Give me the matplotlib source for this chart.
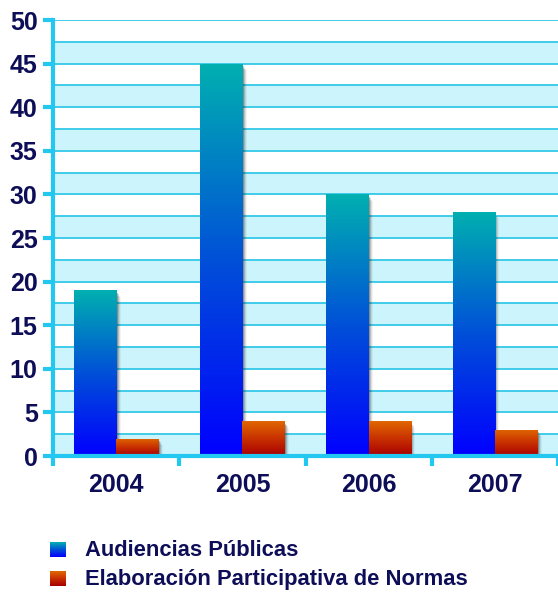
import matplotlib
matplotlib.use("Agg")
from matplotlib import pyplot as plt
from matplotlib.patches import Rectangle
import matplotlib.colors as mcolors
import numpy as np

# Data
years = ["2004", "2005", "2006", "2007"]
audiencias = [19, 45, 30, 28]
elaboracion = [2, 4, 4, 3]
series_names = ["Audiencias Públicas", "Elaboración Participativa de Normas"]

plt.rcParams["font.family"] = ["Liberation Sans", "DejaVu Sans"]

navy = "#0e0e58"
cyan_line = "#33c8e8"
cyan_axis = "#22c8f0"
band_color = "#ccf4fc"

blue_cmap = mcolors.LinearSegmentedColormap.from_list("blue", ["#0000ff", "#0050d8", "#00b0b0"])
orange_cmap = mcolors.LinearSegmentedColormap.from_list("orange", ["#a80000", "#c83000", "#e06800"])

fig = plt.figure(figsize=(5.58, 5.95), dpi=100)
ax = fig.add_axes([53 / 558, 1 - 456 / 595, 1 - 53 / 558, 436 / 595])

ymax = 50
ax.set_ylim(0, ymax)
ax.set_xlim(0, len(years))

# alternating background bands
for y0 in np.arange(0, ymax, 5):
    ax.axhspan(y0, y0 + 2.5, color=band_color, zorder=0, lw=0)
for y0 in np.arange(2.5, ymax + 0.1, 2.5):
    ax.axhline(y0, color=cyan_line, lw=1.3, zorder=1)

x = np.arange(len(years)) + 0.5
width = 0.335


def gradient_bars(xpos, heights, cmap, align):
    bars = ax.bar(xpos, heights, width, align=align, color="none", lw=0, zorder=3)
    grad = np.linspace(0, 1, 256).reshape(-1, 1)
    for b in bars:
        bx, by = b.get_x(), b.get_y()
        bw, bh = b.get_width(), b.get_height()
        # soft drop shadow on the right
        for k, a in enumerate([0.25, 0.17, 0.10, 0.05]):
            sh = Rectangle((bx + 0.012 + k * 0.008, by), bw, bh - 0.3 - k * 0.15,
                           color="#202020", alpha=a, lw=0, zorder=2)
            ax.add_patch(sh)
        im = ax.imshow(grad, cmap=cmap, origin="lower", aspect="auto",
                       extent=(bx, bx + bw, by, by + bh), zorder=3)
        im.set_clip_path(b)
    return bars


gradient_bars(x - width, audiencias, blue_cmap, "edge")
gradient_bars(x, elaboracion, orange_cmap, "edge")
ax.set_xlim(0, len(years))
ax.set_ylim(0, ymax)

# axes styling
for s in ["top", "right"]:
    ax.spines[s].set_visible(False)
for s in ["left", "bottom"]:
    ax.spines[s].set_color(cyan_axis)
    ax.spines[s].set_linewidth(3)
    ax.spines[s].set_zorder(5)

ax.set_yticks(np.arange(0, ymax + 1, 5))
ax.set_xticks(np.arange(0, len(years) + 1))
ax.set_xticklabels([])
ax.set_xticks(x, minor=True)
ax.set_xticklabels(years, minor=True)
ax.tick_params(axis="y", colors=cyan_axis, width=3, length=7, labelcolor=navy,
               labelsize=18, pad=4)
ax.tick_params(axis="x", which="major", colors=cyan_axis, width=3, length=7)
ax.tick_params(axis="x", which="minor", length=0, labelcolor=navy, labelsize=18, pad=12)
for lbl in ax.get_yticklabels() + ax.get_xticklabels(minor=True):
    lbl.set_fontweight("bold")

# legend
grad = np.linspace(0, 1, 64).reshape(-1, 1)
for i, (name, cmap) in enumerate(zip(series_names, [blue_cmap, orange_cmap])):
    yc = 550 + i * 29
    lax = fig.add_axes([50 / 558, 1 - (yc + 7) / 595, 16 / 558, 15 / 595])
    lax.imshow(grad, cmap=cmap, origin="lower", aspect="auto")
    lax.axis("off")
    fig.text(85 / 558, 1 - yc / 595, name, color=navy, fontsize=15.8,
             fontweight="bold", va="center", ha="left")

fig.savefig("out.png", dpi=100)
plt.close()
